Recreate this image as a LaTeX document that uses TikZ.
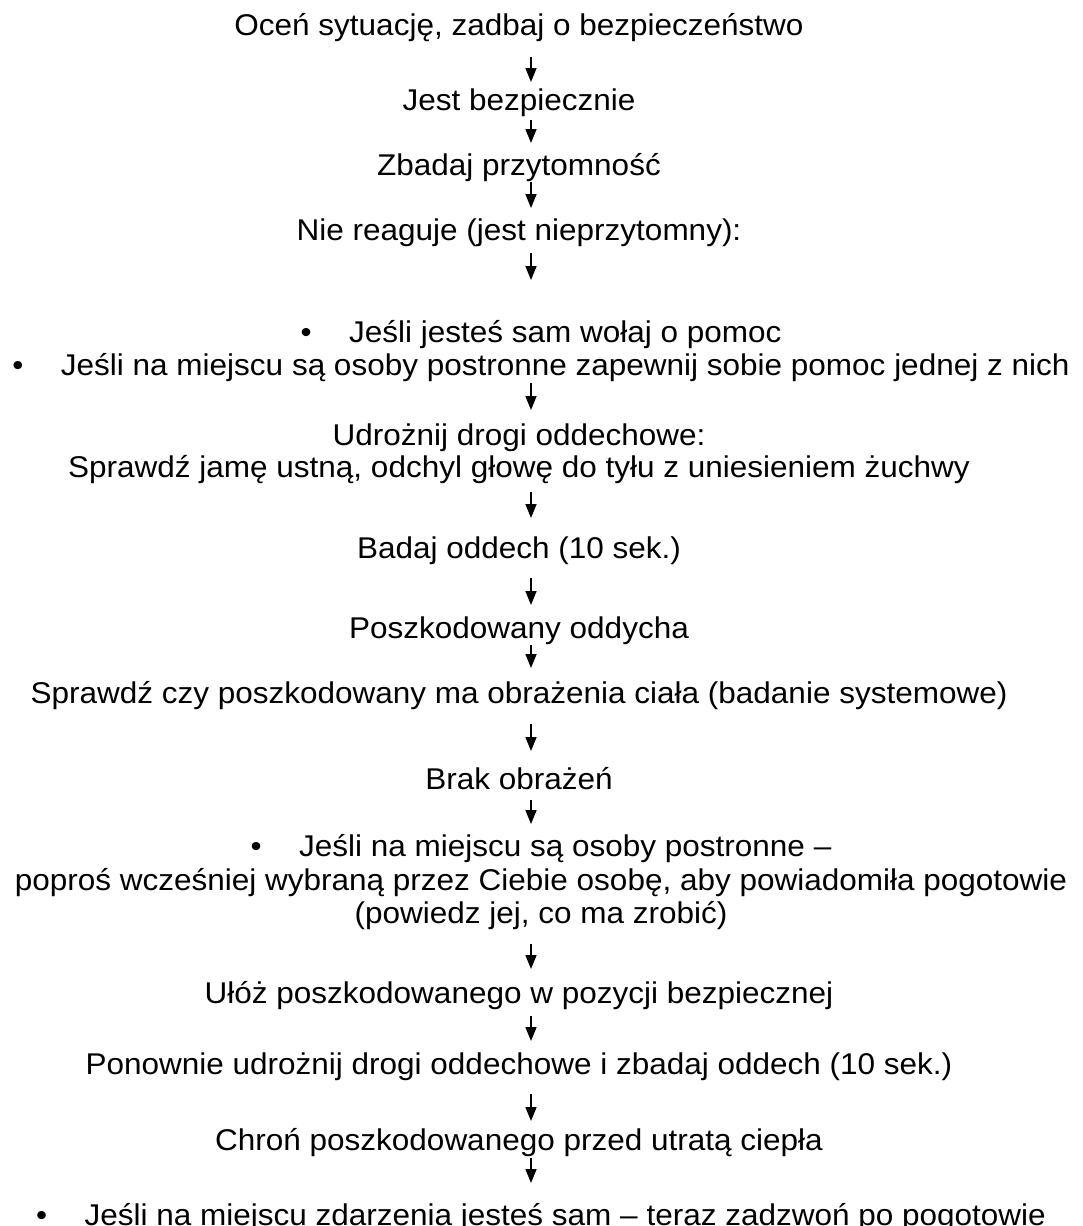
\documentclass[tikz,border=0pt]{standalone}
\usepackage{fontspec}
\setmainfont[FakeStretch=1.05]{Liberation Sans}
\usetikzlibrary{arrows.meta}
\newcommand\bulmark{\makebox[48.5pt][l]{•}}
\begin{document}
\begin{tikzpicture}[x=1pt,y=-1pt,
  txt/.style={anchor=base, inner sep=0pt, font=\fontsize{30}{34}\selectfont},
  arr/.style={line width=1.6pt, -{Triangle[length=14pt,width=11pt]}}]
\useasboundingbox[fill=white] (0,0) rectangle (1083,1226);
\node[txt] (n1)  at (519,35)   {Oceń sytuację, zadbaj o bezpieczeństwo};
\node[txt] (n2)  at (519,110)  {Jest bezpiecznie};
\node[txt] (n3)  at (519,175)  {Zbadaj przytomność};
\node[txt] (n4)  at (519,240)  {Nie reaguje (jest nieprzytomny):};
\node[txt] (n5)  at (541,342)  {\bulmark Jeśli jesteś sam wołaj o pomoc};
\node[txt] (n6)  at (541,375)  {\bulmark Jeśli na miejscu są osoby postronne zapewnij sobie pomoc jednej z nich};
\node[txt] (n7)  at (519,445)  {Udrożnij drogi oddechowe:};
\node[txt] (n8)  at (519,477)  {Sprawdź jamę ustną, odchyl głowę do tyłu z uniesieniem żuchwy};
\node[txt] (n9)  at (519,558)  {Badaj oddech (10 sek.)};
\node[txt] (n10) at (519,638)  {Poszkodowany oddycha};
\node[txt] (n11) at (519,703)  {Sprawdź czy poszkodowany ma obrażenia ciała (badanie systemowe)};
\node[txt] (n12) at (519,789)  {Brak obrażeń};
\node[txt] (n13) at (541,856)  {\bulmark Jeśli na miejscu są osoby postronne –};
\node[txt] (n14) at (541,890)  {poproś wcześniej wybraną przez Ciebie osobę, aby powiadomiła pogotowie};
\node[txt] (n15) at (541,923)  {(powiedz jej, co ma zrobić)};
\node[txt] (n16) at (519,1003) {Ułóż poszkodowanego w pozycji bezpiecznej};
\node[txt] (n17) at (519,1074) {Ponownie udrożnij drogi oddechowe i zbadaj oddech (10 sek.)};
\node[txt] (n18) at (519,1150) {Chroń poszkodowanego przed utratą ciepła};
\node[txt] (n19) at (541,1225) {\bulmark Jeśli na miejscu zdarzenia jesteś sam – teraz zadzwoń po pogotowie};
% arrow end points
\coordinate (a1s) at (531,57);   \coordinate (a1e) at (531,82);
\coordinate (a2s) at (531,120);  \coordinate (a2e) at (531,143);
\coordinate (a3s) at (531,182);  \coordinate (a3e) at (531,208);
\coordinate (a4s) at (531,253);  \coordinate (a4e) at (531,280);
\coordinate (a5s) at (531,383);  \coordinate (a5e) at (531,410);
\coordinate (a6s) at (531,492);  \coordinate (a6e) at (531,518);
\coordinate (a7s) at (531,578);  \coordinate (a7e) at (531,605);
\coordinate (a8s) at (531,645);  \coordinate (a8e) at (531,668);
\coordinate (a9s) at (531,724);  \coordinate (a9e) at (531,751);
\coordinate (a10s) at (531,800); \coordinate (a10e) at (531,824);
\coordinate (a11s) at (531,944); \coordinate (a11e) at (531,969);
\coordinate (a12s) at (531,1016);\coordinate (a12e) at (531,1041);
\coordinate (a13s) at (531,1094);\coordinate (a13e) at (531,1121);
\coordinate (a14s) at (531,1158);\coordinate (a14e) at (531,1183);
\foreach \i in {1,...,14} {\draw[arr] (a\i s) -- (a\i e);}
\end{tikzpicture}
\end{document}
